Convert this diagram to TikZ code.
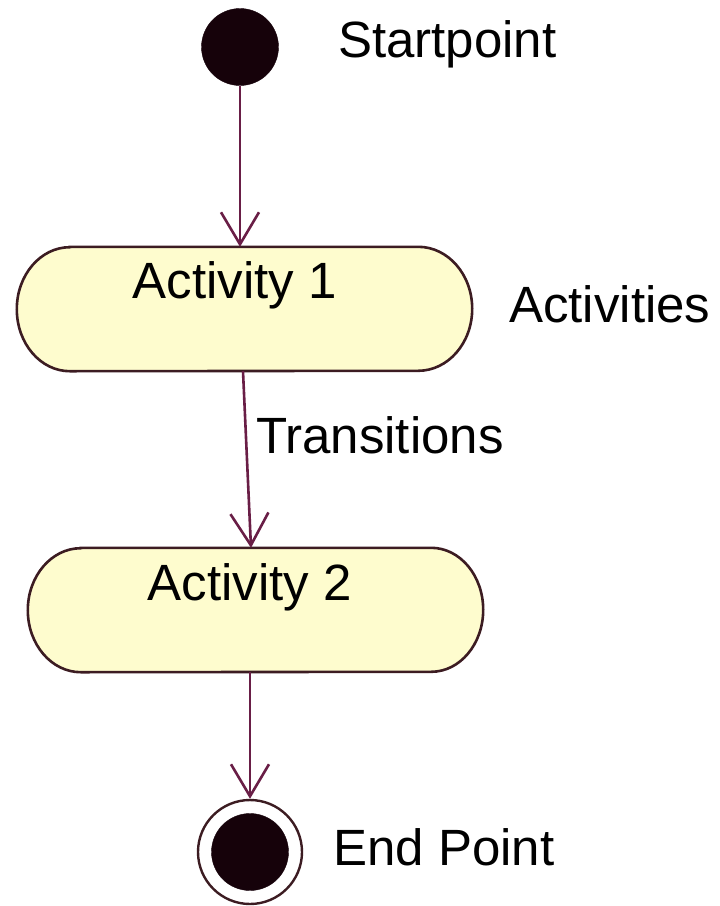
\documentclass[tikz,border=0pt]{standalone}
\usepackage{fontspec}
\setmainfont{Liberation Sans}
\usetikzlibrary{arrows.meta}

\definecolor{flowline}{RGB}{105,30,70}
\definecolor{actfill}{RGB}{254,252,206}
\definecolor{actedge}{RGB}{60,28,34}
\definecolor{dotfill}{RGB}{22,2,10}

\tikzset{
  lbl/.style={inner sep=0pt, font=\fontsize{51}{60}\selectfont, text=black},
  actbox/.style={minimum width=455pt, minimum height=124pt, inner sep=0pt},
  actline/.style={draw=actedge, fill=actfill, line width=2.6pt},
  dot/.style={circle, fill=dotfill, draw=dotfill, minimum size=77pt, inner sep=0pt},
  ring/.style={circle, draw=actedge, line width=2.4pt, fill=white, minimum size=104pt, inner sep=0pt},
  flow/.style={draw=flowline, line width=2.6pt, -{Straight Barb[length=32pt, width=38pt, line width=2.6pt]}}
}

\begin{document}
\begin{tikzpicture}[x=1pt, y=-1pt]
  \useasboundingbox[fill=white] (0,0) rectangle (720,906);

  % initial state
  \node[dot] (s) at (240,47) {};
  \node[lbl, anchor=base west] (sl) at (338,57) {Startpoint};

  % activity states (rounded-end boxes)
  \node[actbox] (a1) at (244.5,309) {};
  \draw[actline] ([xshift=53pt]a1.north west) -- ([xshift=-54pt]a1.north east)
    arc[start angle=90, end angle=-90, x radius=54pt, y radius=62pt]
    -- ([xshift=53pt]a1.south west)
    arc[start angle=270, end angle=90, x radius=53pt, y radius=62pt] -- cycle;
  \node[lbl, anchor=base] (a1t) at (235,298) {Activity 1};
  \node[lbl, anchor=base west] (al) at (509,322) {Activities};

  \node[actbox] (a2) at (255.5,610) {};
  \draw[actline] ([xshift=53pt]a2.north west) -- ([xshift=-52pt]a2.north east)
    arc[start angle=90, end angle=-90, x radius=52pt, y radius=62pt]
    -- ([xshift=53pt]a2.south west)
    arc[start angle=270, end angle=90, x radius=53pt, y radius=62pt] -- cycle;
  \node[lbl, anchor=base] (a2t) at (250,600) {Activity 2};

  % final state
  \node[ring] (e) at (250,852) {};
  \node[dot] (ei) at (e.center) {};
  \node[lbl, anchor=base west] (el) at (333,865) {End Point};

  % transitions
  \draw[flow] (s.south) -- (s.south |- a1.north);
  \draw[flow] ([xshift=-1.5pt]a1.south) -- ([xshift=-4.5pt]a2.north);
  \node[lbl, anchor=base west] (tl) at (256,453) {Transitions};
  \draw[flow] (a2.south -| e.north) -- (e.north);
\end{tikzpicture}
\end{document}
